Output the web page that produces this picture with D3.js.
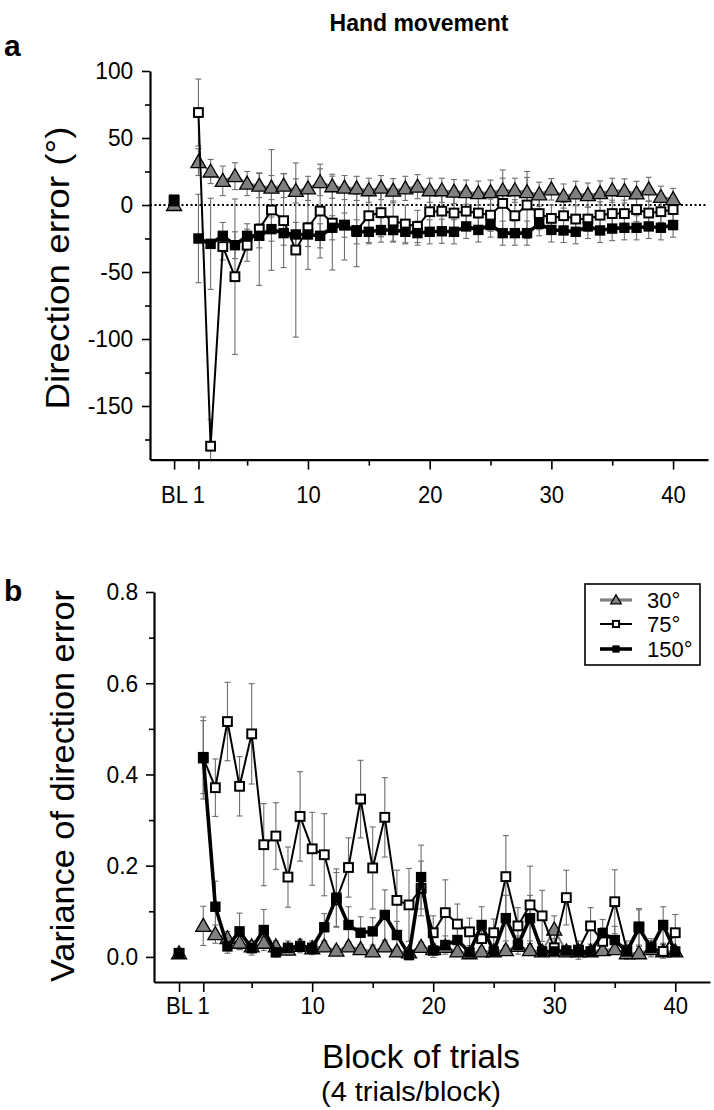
<!DOCTYPE html>
<html><head><meta charset="utf-8">
<script src="https://cdn.jsdelivr.net/npm/d3@7"></script>
<style>
html,body{margin:0;padding:0;background:#fff;}
text{font-family:"Liberation Sans",Arial,Helvetica,sans-serif;fill:#000;}
</style></head>
<body>
<svg id="chart" width="714" height="1110"></svg>
<script>
// ---------- data ----------
const blocks = [1,2,3,4,5,6,7,8,9,10,11,12,13,14,15,16,17,18,19,20,21,22,23,24,25,26,27,28,29,30,31,32,33,34,35,36,37,38,39,40];
const conditions = ["30°","75°","150°"];
const xTickValues = [-1,1,10,20,30,40];
const xTickLabels = ["BL","1","10","20","30","40"];
const xMinorTicks = [5,15,25,35];

// Panel a: direction error (deg)
const dirBL = [0, 3, 4];
const dirBLse = [4, 3, 3];
const dir30 = [32,25,18,21.5,16,14.5,13,14.5,10.5,12.4,17,14,13,12.4,11,13,10.7,12.4,13.7,11,11,10,9.6,8.9,9.6,11,11,9.6,8,11.7,6.7,8.7,7.4,8.9,11,10.5,8.7,11.7,6,4.4];
const dir75 = [69,-180,-31,-53.5,-30,-18,-3.7,-11.7,-33.6,-17,-4.5,-13.5,-15,-19,-8,-5.7,-12,-14.2,-16,-5,-4.6,-6,-4.6,-6,-7.6,1.2,-8,0,-6.4,-10,-8,-10.5,-10.5,-7.6,-6.4,-6.4,-3.4,-6,-5,-3.4];
const dir150 = [-25,-29,-23,-30,-23,-23,-18,-21,-22,-22,-23,-17,-15,-20,-20,-18.7,-18.7,-20,-21,-20,-19.6,-20,-16,-18.6,-15,-21,-21,-21,-14,-18.6,-19,-20,-16,-19,-17.6,-17,-17,-16,-17,-15];
const dir30se = [10,9,11,10,9,9,9,9,9,9,10,9,9,9,9,9,9,9,9,9,9,9,9,9,9,9,9,11,9,8,9,9,9,9,9,9,9,9,8,8];
const dir75se = [25,20,10,58,12,42,45,35,65,31,35,35,26,27,20,18,15,14,12,14,12,12,12,12,12,25,12,25,12,10,10,10,9,10,10,10,9,9,8,8];
const dir150se = [33,34,10,10,9,9,9,9,9,9,9,9,9,9,9,9,9,9,9,9,9,9,9,9,9,9,9,9,9,9,9,9,9,9,9,9,9,9,9,9];
const dirTicks = [100,50,0,-50,-100,-150];
const dirMinor = [75,25,-25,-75,-125,-175];

// Panel b: variance of direction error
const varBL = [0.008, 0.008, 0.008];
const varBLse = [0.004, 0.004, 0.004];
const var30 = [0.068,0.05,0.041,0.031,0.023,0.031,0.023,0.016,0.024,0.019,0.023,0.014,0.023,0.017,0.012,0.023,0.012,0.01,0.022,0.017,0.022,0.012,0.008,0.012,0.012,0.015,0.024,0.015,0.012,0.06,0.012,0.012,0.012,0.015,0.017,0.008,0.008,0.017,0.012,0.012];
const var75 = [0.436,0.371,0.516,0.374,0.489,0.246,0.265,0.175,0.308,0.237,0.224,0.125,0.196,0.346,0.195,0.306,0.124,0.114,0.15,0.053,0.097,0.072,0.055,0.04,0.053,0.176,0.068,0.114,0.09,0.02,0.13,0.015,0.068,0.034,0.121,0.015,0.066,0.02,0.012,0.053];
const var150 = [0.438,0.11,0.023,0.056,0.019,0.059,0.01,0.02,0.024,0.02,0.065,0.13,0.07,0.053,0.056,0.092,0.048,0.004,0.175,0.014,0.026,0.037,0.01,0.07,0.012,0.085,0.026,0.085,0.012,0.012,0.014,0.012,0.012,0.052,0.037,0.012,0.063,0.02,0.07,0.012];
const var30se = [0.043,0.02,0.015,0.015,0.012,0.012,0.012,0.01,0.01,0.01,0.01,0.01,0.01,0.01,0.01,0.01,0.01,0.01,0.01,0.01,0.01,0.01,0.01,0.01,0.01,0.01,0.01,0.01,0.01,0.03,0.01,0.01,0.01,0.01,0.01,0.01,0.01,0.01,0.01,0.01];
const var75se = [0.09,0.063,0.086,0.065,0.11,0.09,0.073,0.066,0.098,0.08,0.09,0.06,0.065,0.085,0.09,0.087,0.066,0.08,0.06,0.037,0.072,0.044,0.03,0.03,0.03,0.09,0.04,0.085,0.056,0.02,0.06,0.02,0.04,0.03,0.07,0.02,0.04,0.02,0.015,0.04];
const var150se = [0.08,0.056,0.015,0.04,0.015,0.045,0.01,0.015,0.015,0.015,0.03,0.063,0.04,0.035,0.03,0.055,0.03,0.01,0.07,0.015,0.02,0.03,0.01,0.04,0.01,0.05,0.02,0.05,0.01,0.01,0.01,0.01,0.01,0.03,0.03,0.01,0.04,0.015,0.04,0.01];
const varTicks = [0.0,0.2,0.4,0.6,0.8];
const varMinor = [0.1,0.3,0.5,0.7];

// ---------- drawing ----------
const svg = d3.select("#chart");
const triPath = "M0,-7.5L7.5,5.5L-7.5,5.5Z";
const styles = [
  {line:"#808080", lw:2.2, marker:"tri"},
  {line:"#000", lw:2, marker:"open"},
  {line:"#000", lw:3.6, marker:"filled"}
];

function drawMarker(g, type, x, y, s) {
  s = s || 1;
  if (type === "tri") {
    g.append("path").attr("d", triPath).attr("transform", `translate(${x},${y}) scale(${s})`)
      .attr("fill", "#808080").attr("stroke", "#000").attr("stroke-width", 1.3/s);
  } else if (type === "open") {
    const h = 4.4*s;
    g.append("rect").attr("x", x-h).attr("y", y-h).attr("width", 2*h).attr("height", 2*h)
      .attr("fill", "#fff").attr("stroke", "#000").attr("stroke-width", 2);
  } else {
    const h = 5.2*s;
    g.append("rect").attr("x", x-h).attr("y", y-h).attr("width", 2*h).attr("height", 2*h)
      .attr("fill", "#000");
  }
}

function panel(cfg) {
  const g = svg.append("g");
  const x = d3.scaleLinear().domain(cfg.xDomain).range(cfg.xRange);
  const y = d3.scaleLinear().domain(cfg.yDomain).range(cfg.yRange);

  g.append("g").attr("transform", `translate(${cfg.xRange[0]},0)`)
    .call(d3.axisLeft(y).tickValues(cfg.yTicks).tickSize(8).tickSizeOuter(0).tickPadding(cfg.yPad).tickFormat(cfg.yFmt))
    .selectAll(".tick text").attr("transform", "scale(0.93,1)");
  g.append("g").attr("transform", `translate(${cfg.xRange[0]},0)`)
    .call(d3.axisLeft(y).tickValues(cfg.yMinor).tickSize(5).tickSizeOuter(0).tickFormat(""))
    .select(".domain").remove();
  g.append("g").attr("transform", `translate(0,${cfg.yRange[1]})`)
    .call(d3.axisBottom(x).tickValues(xTickValues).tickSize(10).tickSizeOuter(0).tickPadding(cfg.xPad)
      .tickFormat((d,i) => xTickLabels[i]))
    .selectAll(".tick text").attr("transform", "scale(0.9,1)");
  g.append("g").attr("transform", `translate(0,${cfg.yRange[1]})`)
    .call(d3.axisBottom(x).tickValues(xMinorTicks).tickSize(6).tickSizeOuter(0).tickFormat(""))
    .select(".domain").remove();
  g.selectAll(".domain").attr("stroke-width", 2.2);
  g.selectAll(".tick line").attr("stroke-width", 1.6);
  g.selectAll(".tick text").style("font-size", "24.5px").style("font-family", '"Liberation Sans",Arial,sans-serif');

  if (cfg.zeroLine) {
    g.append("line").attr("x1", cfg.xRange[0]).attr("x2", cfg.xRange[1] - 2)
      .attr("y1", y(0)).attr("y2", y(0))
      .attr("stroke", "#000").attr("stroke-width", 2).attr("stroke-dasharray", "2,2.5");
  }

  const series = cfg.series;
  const eb = g.append("g").attr("stroke", "#6e6e6e").attr("stroke-width", 1.1);
  series.forEach((s, k) => {
    const pts = [{b:-1, v:cfg.bl[k], e:cfg.blse[k]}].concat(blocks.map((b,i)=>({b, v:s.vals[i], e:s.se[i]})));
    pts.forEach(p => {
      const lo = Math.max(p.v - p.e, cfg.yDomain[1]);
      const hi = Math.min(p.v + p.e, cfg.yDomain[0]);
      const xx = x(p.b);
      eb.append("line").attr("x1", xx).attr("x2", xx).attr("y1", y(lo)).attr("y2", y(hi));
      if (p.v + p.e <= cfg.yDomain[0]) eb.append("line").attr("x1", xx-3).attr("x2", xx+3).attr("y1", y(hi)).attr("y2", y(hi));
      if (p.v - p.e >= cfg.yDomain[1]) eb.append("line").attr("x1", xx-3).attr("x2", xx+3).attr("y1", y(lo)).attr("y2", y(lo));
    });
  });

  series.forEach((s, k) => {
    const st = styles[k];
    const line = d3.line().x((d,i) => x(blocks[i])).y(d => y(d));
    g.append("path").datum(s.vals).attr("d", line).attr("fill", "none")
      .attr("stroke", st.line).attr("stroke-width", st.lw).attr("stroke-linejoin", "miter");
    const mg = g.append("g");
    drawMarker(mg, st.marker, x(-1), y(cfg.bl[k]));
    s.vals.forEach((v,i) => drawMarker(mg, st.marker, x(blocks[i]), y(v)));
  });
  return {g, x, y};
}

panel({
  xDomain:[-2.98, 42.87], xRange:[150, 708],
  yDomain:[100, -190], yRange:[71, 459.6],
  yTicks: dirTicks, yMinor: dirMinor, yFmt: d => d, yPad: 10, xPad: 16,
  zeroLine: true,
  bl: dirBL, blse: dirBLse,
  series: [
    {vals: dir30, se: dir30se},
    {vals: dir75, se: dir75se},
    {vals: dir150, se: dir150se}
  ]
});

panel({
  xDomain:[-3.07, 42.87], xRange:[154, 710],
  yDomain:[0.8, -0.055], yRange:[592, 982],
  yTicks: varTicks, yMinor: varMinor, yFmt: d3.format(".1f"), yPad: 9, xPad: 5,
  zeroLine: false,
  bl: varBL, blse: varBLse,
  series: [
    {vals: var30, se: var30se},
    {vals: var75, se: var75se},
    {vals: var150, se: var150se}
  ]
});

// Titles and labels
svg.append("text").attr("x", 419).attr("y", 31).attr("text-anchor", "middle")
  .style("font-size", "23px").style("font-weight", "bold").text("Hand movement");
svg.append("text").attr("x", 4).attr("y", 56).style("font-size", "30px").style("font-weight", "bold").text("a");
svg.append("text").attr("x", 4).attr("y", 601).style("font-size", "30px").style("font-weight", "bold").text("b");

svg.append("text").attr("transform", "translate(69,268) rotate(-90)").attr("text-anchor", "middle")
  .style("font-size", "34px").attr("textLength", 283).attr("lengthAdjust", "spacingAndGlyphs").text("Direction error (°)");
svg.append("text").attr("transform", "translate(74,786) rotate(-90)").attr("text-anchor", "middle")
  .style("font-size", "33px").attr("textLength", 392).attr("lengthAdjust", "spacingAndGlyphs").text("Variance of direction error");
svg.append("text").attr("x", 421).attr("y", 1068).attr("text-anchor", "middle")
  .style("font-size", "34px").attr("textLength", 198).attr("lengthAdjust", "spacingAndGlyphs").text("Block of trials");
svg.append("text").attr("x", 411).attr("y", 1101).attr("text-anchor", "middle")
  .style("font-size", "27px").attr("textLength", 180).attr("lengthAdjust", "spacingAndGlyphs").text("(4 trials/block)");

// Legend
const lg = svg.append("g");
lg.append("rect").attr("x", 585).attr("y", 584).attr("width", 115).attr("height", 81)
  .attr("fill", "#fff").attr("stroke", "#000").attr("stroke-width", 1.6);
const legY = [600, 624, 649];
conditions.forEach((c, k) => {
  const st = styles[k];
  lg.append("line").attr("x1", 600).attr("x2", 632).attr("y1", legY[k]).attr("y2", legY[k])
    .attr("stroke", st.line).attr("stroke-width", k === 0 ? 3.2 : st.lw);
  drawMarker(lg, st.marker, 616, legY[k], 0.7);
  lg.append("text").attr("x", 647).attr("y", legY[k]).attr("dy", "0.36em")
    .style("font-size", "22px").text(c);
});
</script>
</body></html>
